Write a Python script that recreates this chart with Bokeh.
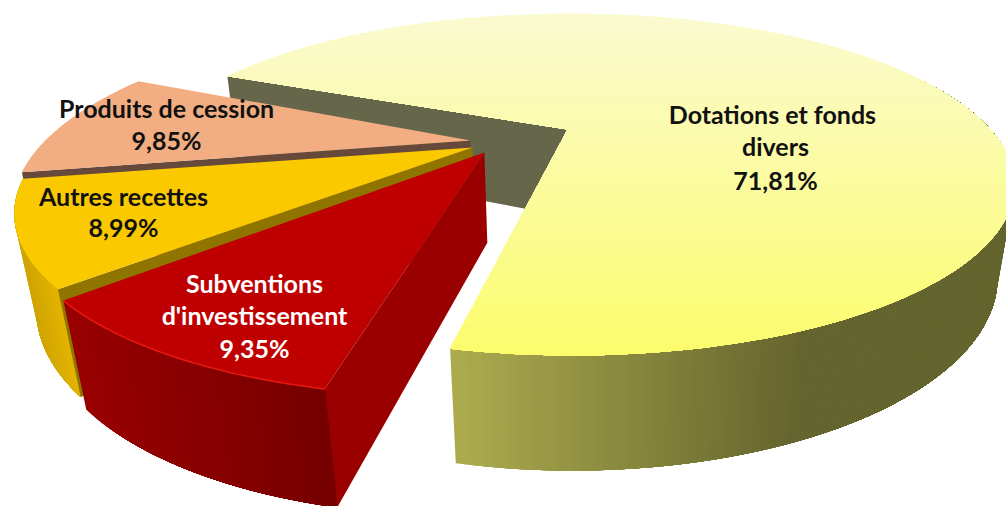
import numpy as np
from bokeh.plotting import figure
from bokeh.models import Range1d
from bokeh.core.properties import value
from bokeh.embed import file_html
from bokeh.resources import INLINE

# ---- data ----
categories = ["Dotations et fonds divers", "Subventions d'investissement", "Autres recettes", "Produits de cession"]
shares = [71.81, 9.35, 8.99, 9.85]
share_labels = ["71,81%", "9,35%", "8,99%", "9,85%"]

# ---- layout ----
W, H = 1006, 506
CX, CY, A, B, K, M, C = 567.0, 129.0, 419.6, 153.3, 0.3216, 0.035, 90.0
START = 157.0
OFFSETS = [(0.008, 0.0), (-0.175, -0.116), (-0.2, -0.076), (-0.217, -0.04)]
APEXES = [(0.0, 0.0), (-0.189, -0.143), (-0.218, -0.113), (-0.226, -0.07)]


def proj(X, Y, bottom=False):
    X, Y = np.asarray(X, float), np.asarray(Y, float)
    z = 1.0 if bottom else 0.0
    w = 1 + K * Y + M * z
    return CX + A * X / w, CY + (-B * Y + C * z) / w


def arc(i, t0, t1, n, bottom=False):
    th = np.radians(np.linspace(t0, t1, n))
    ox, oy = OFFSETS[i]
    return proj(ox + np.cos(th), oy + np.sin(th), bottom)


def apex(i, bottom=False):
    ox, oy = APEXES[i]
    return proj(ox, oy, bottom)


def lerp(c0, c1, t):
    t = min(1.0, max(0.0, t))
    c = [int(round(a + (b - a) * t)) for a, b in zip(c0, c1)]
    return "#%02x%02x%02x" % tuple(c)


px, py, pc = [], [], []


def add(xs, ys, color):
    px.append(list(map(float, xs)))
    py.append(list(map(float, ys)))
    pc.append(color)


def clip_below(xs, ys, y0):
    """Keep the part of a polygon with y >= y0."""
    ox, oy = [], []
    n = len(xs)
    for j in range(n):
        x1, y1, x2, y2 = xs[j], ys[j], xs[(j + 1) % n], ys[(j + 1) % n]
        if y1 >= y0:
            ox.append(x1)
            oy.append(y1)
        if (y1 >= y0) != (y2 >= y0):
            t = (y0 - y1) / (y2 - y1)
            ox.append(x1 + (x2 - x1) * t)
            oy.append(y0)
    return ox, oy


def wall_gradient(i, t0, t1, c_of_x, steps):
    """Curved outer wall, painted back to front so that no seams show."""
    ts = np.linspace(t0, t1, steps + 1)
    for a in ts[:-1]:
        xt, yt = arc(i, a, t1, 80)
        xb, yb = arc(i, a, t1, 80, True)
        add(np.r_[xt, xb[::-1]], np.r_[yt, yb[::-1]], c_of_x(float(xt[0])))


def radial_wall(i, t, color):
    ax, ay = apex(i)
    bx, by = apex(i, True)
    ox, oy = arc(i, t, t, 1)
    qx, qy = arc(i, t, t, 1, True)
    add([ax, ox[0], qx[0], bx], [ay, oy[0], qy[0], by], color)


# cumulative angles, clockwise on screen
ends = [START]
for s in shares:
    ends.append(ends[-1] - s * 3.6)
spans = [(ends[j], ends[j + 1]) for j in range(len(shares))]

# ---- yellow slice ----
s0, s1 = spans[0]
radial_wall(0, s0, "#66664a")
wall_gradient(0, s1, s1 + 122, lambda x: lerp((171, 171, 78), (100, 100, 46), (x - 452) / 350), 160)
xa, ya = arc(0, s0, s1, 240)
ax, ay = apex(0)
poly_x, poly_y = list(xa) + [float(ax)], list(ya) + [float(ay)]
bands = np.linspace(12, 356, 58)
for y0 in bands:
    cx_, cy_ = clip_below(poly_x, poly_y, y0)
    if len(cx_) > 2:
        add(cx_, cy_, lerp((250, 250, 208), (252, 252, 108), (y0 - 12) / 340))

# ---- peach slice ----
s0, s1 = spans[3]
radial_wall(3, s0, "#66493a")
xa, ya = arc(3, s0, s1, 60)
ax, ay = apex(3)
add(list(xa) + [ax], list(ya) + [ay], "#f2ae82")

# ---- gold slice ----
s0, s1 = spans[2]
wall_gradient(2, s1, s0, lambda x: lerp((240, 190, 0), (208, 165, 0), (80 - x) / 60), 20)
radial_wall(2, s0, "#8f7500")
xa, ya = arc(2, s0, s1, 60)
ax, ay = apex(2)
add(list(xa) + [ax], list(ya) + [ay], "#fbc900")

# ---- red slice ----
s0, s1 = spans[1]
radial_wall(1, s0, "#9a0000")
wall_gradient(1, s1, s0, lambda x: lerp((152, 0, 0), (118, 0, 0), (x - 70) / 250), 50)
xa, ya = arc(1, s0, s1, 60)
ax, ay = apex(1)
add(list(xa) + [ax], list(ya) + [ay], "#bf0000")

p = figure(width=W, height=H, output_backend="svg", toolbar_location=None,
           x_range=Range1d(0, W), y_range=Range1d(H, 0), min_border=0,
           outline_line_color=None, background_fill_color="white", border_fill_color="white")
p.axis.visible = False
p.grid.visible = False
p.patches(px, py, fill_color=pc, line_color=None)
p.line(xa, ya, line_color="#e81a10", line_width=1.5)

# ---- labels: split lines of each category ----
label_lines = [
    (["Dotations  et fonds", "divers", share_labels[0]], 775, [113, 145, 179], "#111111"),
    (["Subventions", "d'investissement", share_labels[1]], 254, [282, 314, 347], "#ffffff"),
    (["Autres recettes", share_labels[2]], 123, [195, 226], "#111111"),
    (["Produits de cession", share_labels[3]], 166, [107, 139], "#111111"),
]
for lines, x, ys, col in label_lines:
    p.text([x] * len(lines), ys, text=lines, text_align="center", text_baseline="middle",
           text_font=value("Lato"), text_font_style="bold", text_font_size="25px", text_color=col)

open("out.html", "w").write(file_html(p, INLINE))
